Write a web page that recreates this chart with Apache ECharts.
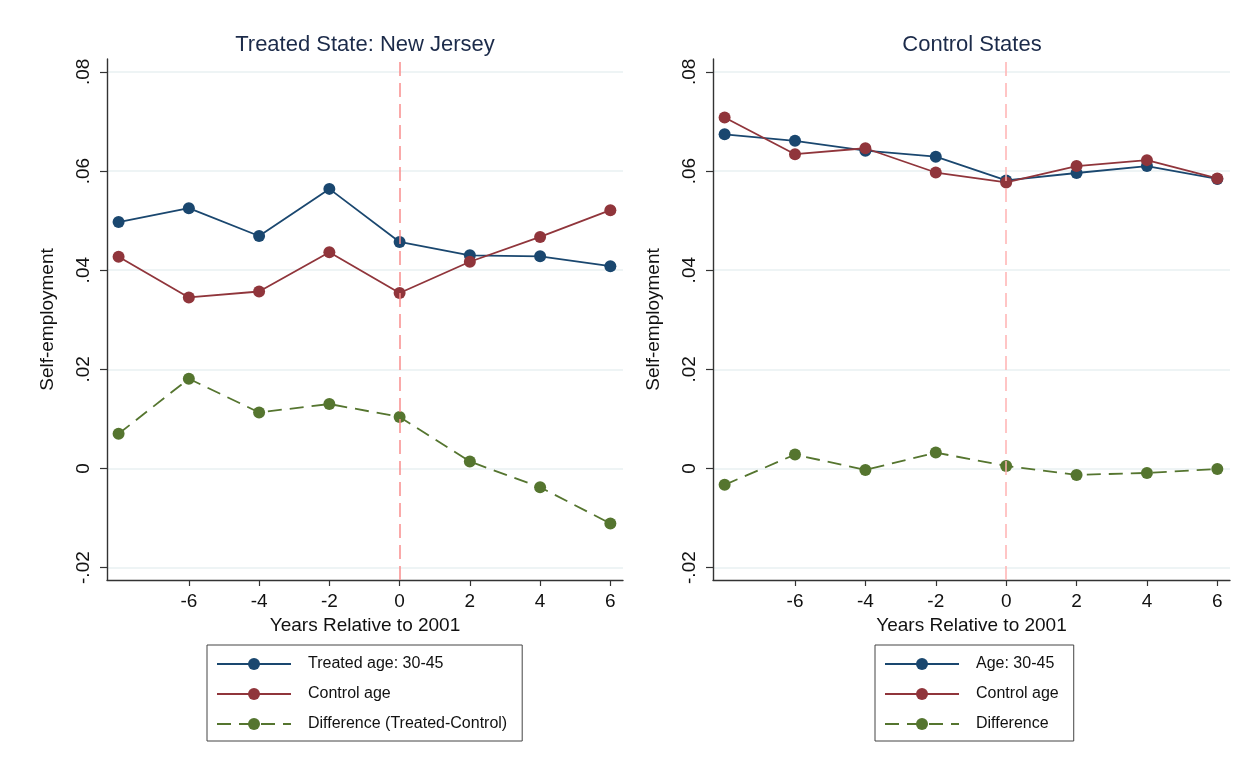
<!DOCTYPE html>
<html><head><meta charset="utf-8">
<script src="https://cdn.jsdelivr.net/npm/echarts@6/dist/echarts.min.js"></script>
<style>html,body{margin:0;padding:0;background:#fff}#c{width:1252px;height:770px}</style>
</head><body><div id="c"></div>
<script>
const years = [-8, -6, -4, -2, 0, 2, 4, 6];
const xTicks = [-6, -4, -2, 0, 2, 4, 6];
const yTicks = [-0.02, 0, 0.02, 0.04, 0.06, 0.08];

const titles = ['Treated State: New Jersey', 'Control States'];
const leftNames = ['Treated age: 30-45', 'Control age', 'Difference (Treated-Control)'];
const rightNames = ['Age: 30-45', 'Control age', 'Difference'];

const njTreated = [0.0497, 0.0525, 0.0469, 0.0564, 0.0457, 0.0430, 0.0428, 0.0408];
const njControl = [0.0427, 0.0345, 0.0357, 0.0436, 0.0354, 0.0417, 0.0467, 0.0521];
const njDiff    = [0.0070, 0.0181, 0.0113, 0.0130, 0.0104, 0.0014, -0.0038, -0.0111];

const ctTreated = [0.0674, 0.0661, 0.0641, 0.0629, 0.0581, 0.0596, 0.0610, 0.0584];
const ctControl = [0.0708, 0.0634, 0.0646, 0.0597, 0.0577, 0.0610, 0.0622, 0.0585];
const ctDiff    = [-0.0033, 0.0028, -0.0003, 0.0032, 0.0005, -0.0013, -0.0009, -0.0001];

const FONT = 'Liberation Sans, Arial, Helvetica, sans-serif';
const BLUE = '#1a476f', RED = '#90353b', GREEN = '#55752f';
const pair = arr => years.map((x, i) => [x, arr[i]]);
const yFmt = v => {
  if (Math.abs(v) < 1e-9) return '0';
  const s = Math.abs(v).toFixed(2).replace(/^0/, '');
  return (v < 0 ? '-' : '') + s;
};

function xAxis(gi) {
  return {
    type: 'value', gridIndex: gi, min: -8.33, max: 6.36,
    name: 'Years Relative to 2001', nameLocation: 'middle', nameGap: 33,
    nameTextStyle: { fontFamily: FONT, fontSize: 19, color: '#111' },
    axisLine: { show: true, onZero: false, lineStyle: { color: '#333', width: 1.4 } },
    axisTick: { show: true, inside: false, length: 6, customValues: xTicks, lineStyle: { color: '#333', width: 1.2 } },
    axisLabel: { customValues: xTicks, fontFamily: FONT, fontSize: 19, color: '#111', margin: 12 },
    splitLine: { show: false }
  };
}
function yAxis(gi) {
  return {
    type: 'value', gridIndex: gi, min: -0.0225, max: 0.0826,
    name: 'Self-employment', nameLocation: 'middle', nameGap: 50,
    nameTextStyle: { fontFamily: FONT, fontSize: 19, color: '#111' },
    axisLine: { show: true, onZero: false, lineStyle: { color: '#333', width: 1.4 } },
    axisTick: { show: true, inside: false, length: 7, customValues: yTicks, lineStyle: { color: '#333', width: 1.2 } },
    axisLabel: { customValues: yTicks, rotate: 90, formatter: yFmt, fontFamily: FONT, fontSize: 19, color: '#111', margin: 14 },
    splitLine: { show: true, lineStyle: { color: '#e9f1f2', width: 1.5 } }
  };
}
function line(name, data, color, gi, dashed, vcolor) {
  const s = {
    type: 'line', name, data: pair(data), xAxisIndex: gi, yAxisIndex: gi,
    symbol: 'circle', symbolSize: 12, showSymbol: true,
    itemStyle: { color },
    lineStyle: { color, width: 1.8, type: dashed ? [14, 8] : 'solid' },
    emphasis: { disabled: true }
  };
  if (vcolor) {
    s.markLine = {
      silent: true, symbol: 'none', label: { show: false }, animation: false,
      lineStyle: { color: vcolor, width: 1.5, type: [14, 7] },
      data: [{ xAxis: 0 }]
    };
  }
  return s;
}
function legend(names, left) {
  return {
    data: names, orient: 'vertical', left, top: 645,
    itemWidth: 74, itemHeight: 15, itemGap: 14,
    padding: [11, 15, 9, 9], borderColor: '#444', borderWidth: 1,
    textStyle: { fontFamily: FONT, fontSize: 16, color: '#111', lineHeight: 16, padding: [0, 0, 0, 12] },
    selectedMode: false
  };
}

const chart = echarts.init(document.getElementById('c'), null, { renderer: 'canvas' });
chart.setOption({
  backgroundColor: '#fff',
  animation: false,
  title: [
    { text: titles[0], left: 365, top: 34, textAlign: 'center', padding: 0,
      textStyle: { fontFamily: FONT, fontSize: 22, fontWeight: 'normal', color: '#1c2b4a' } },
    { text: titles[1], left: 972, top: 34, textAlign: 'center', padding: 0,
      textStyle: { fontFamily: FONT, fontSize: 22, fontWeight: 'normal', color: '#1c2b4a' } }
  ],
  grid: [
    { left: 107, top: 59, width: 516, height: 521 },
    { left: 713, top: 59, width: 517, height: 521 }
  ],
  xAxis: [xAxis(0), xAxis(1)],
  yAxis: [yAxis(0), yAxis(1)],
  legend: [legend(leftNames, 207), legend(rightNames, 875)],
  series: [
    line(leftNames[0], njTreated, BLUE, 0, false, '#f98d8d'),
    line(leftNames[1], njControl, RED, 0, false),
    line(leftNames[2], njDiff, GREEN, 0, true),
    line(rightNames[0], ctTreated, BLUE, 1, false, '#ffb3b3'),
    line(rightNames[1], ctControl, RED, 1, false),
    line(rightNames[2], ctDiff, GREEN, 1, true)
  ]
});
</script>
</body></html>
